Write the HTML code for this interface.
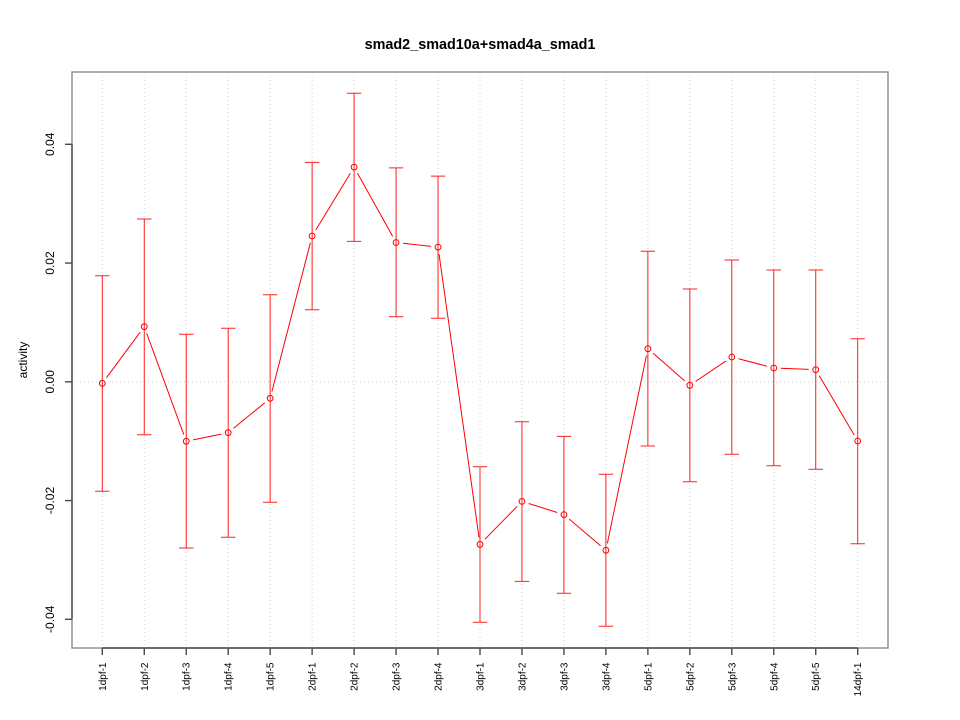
<!DOCTYPE html>
<html>
<head>
<meta charset="utf-8">
<style>
html,body{margin:0;padding:0;background:#fff;}
svg{display:block;}
text{font-family:"Liberation Sans",Arial,sans-serif;fill:#000;}
</style>
</head>
<body>
<svg width="960" height="720" viewBox="0 0 960 720" xmlns="http://www.w3.org/2000/svg">
<rect width="960" height="720" fill="#fff"/>

<!-- grid -->
<g stroke="#cfcfcf" stroke-width="1" stroke-dasharray="1,3" fill="none">
<line x1="102.3" y1="72" x2="102.3" y2="648"/>
<line x1="144.27" y1="72" x2="144.27" y2="648"/>
<line x1="186.23" y1="72" x2="186.23" y2="648"/>
<line x1="228.2" y1="72" x2="228.2" y2="648"/>
<line x1="270.17" y1="72" x2="270.17" y2="648"/>
<line x1="312.13" y1="72" x2="312.13" y2="648"/>
<line x1="354.1" y1="72" x2="354.1" y2="648"/>
<line x1="396.07" y1="72" x2="396.07" y2="648"/>
<line x1="438.03" y1="72" x2="438.03" y2="648"/>
<line x1="480" y1="72" x2="480" y2="648"/>
<line x1="521.97" y1="72" x2="521.97" y2="648"/>
<line x1="563.93" y1="72" x2="563.93" y2="648"/>
<line x1="605.9" y1="72" x2="605.9" y2="648"/>
<line x1="647.87" y1="72" x2="647.87" y2="648"/>
<line x1="689.83" y1="72" x2="689.83" y2="648"/>
<line x1="731.8" y1="72" x2="731.8" y2="648"/>
<line x1="773.77" y1="72" x2="773.77" y2="648"/>
<line x1="815.73" y1="72" x2="815.73" y2="648"/>
<line x1="857.7" y1="72" x2="857.7" y2="648"/>
<line x1="72" y1="381.8" x2="888" y2="381.8"/>
</g>

<!-- box -->
<rect x="72" y="72" width="816" height="576" fill="none" stroke="#8c8c8c" stroke-width="1.4"/>
<!-- axes -->
<g stroke="#4a4a4a" stroke-width="1.4" fill="none">
<line x1="72" y1="144.3" x2="72" y2="619.3"/>
<line x1="65" y1="144.3" x2="72" y2="144.3"/>
<line x1="65" y1="263.05" x2="72" y2="263.05"/>
<line x1="65" y1="381.8" x2="72" y2="381.8"/>
<line x1="65" y1="500.55" x2="72" y2="500.55"/>
<line x1="65" y1="619.3" x2="72" y2="619.3"/>
<line x1="102.3" y1="648" x2="857.7" y2="648"/>
<line x1="102.3" y1="648" x2="102.3" y2="655"/>
<line x1="144.27" y1="648" x2="144.27" y2="655"/>
<line x1="186.23" y1="648" x2="186.23" y2="655"/>
<line x1="228.2" y1="648" x2="228.2" y2="655"/>
<line x1="270.17" y1="648" x2="270.17" y2="655"/>
<line x1="312.13" y1="648" x2="312.13" y2="655"/>
<line x1="354.1" y1="648" x2="354.1" y2="655"/>
<line x1="396.07" y1="648" x2="396.07" y2="655"/>
<line x1="438.03" y1="648" x2="438.03" y2="655"/>
<line x1="480" y1="648" x2="480" y2="655"/>
<line x1="521.97" y1="648" x2="521.97" y2="655"/>
<line x1="563.93" y1="648" x2="563.93" y2="655"/>
<line x1="605.9" y1="648" x2="605.9" y2="655"/>
<line x1="647.87" y1="648" x2="647.87" y2="655"/>
<line x1="689.83" y1="648" x2="689.83" y2="655"/>
<line x1="731.8" y1="648" x2="731.8" y2="655"/>
<line x1="773.77" y1="648" x2="773.77" y2="655"/>
<line x1="815.73" y1="648" x2="815.73" y2="655"/>
<line x1="857.7" y1="648" x2="857.7" y2="655"/>
</g>

<!-- y tick labels -->
<g font-size="12" text-anchor="middle">
<text transform="translate(54,144.3) rotate(-90)">0.04</text>
<text transform="translate(54,263.05) rotate(-90)">0.02</text>
<text transform="translate(54,381.8) rotate(-90)">0.00</text>
<text transform="translate(54,500.55) rotate(-90)">-0.02</text>
<text transform="translate(54,619.3) rotate(-90)">-0.04</text>
</g>
<text transform="translate(27,360) rotate(-90)" font-size="12" text-anchor="middle">activity</text>

<!-- x tick labels -->
<g font-size="10" text-anchor="end">
<text transform="translate(105.8,662.5) rotate(-90)">1dpf-1</text>
<text transform="translate(147.77,662.5) rotate(-90)">1dpf-2</text>
<text transform="translate(189.73,662.5) rotate(-90)">1dpf-3</text>
<text transform="translate(231.7,662.5) rotate(-90)">1dpf-4</text>
<text transform="translate(273.67,662.5) rotate(-90)">1dpf-5</text>
<text transform="translate(315.63,662.5) rotate(-90)">2dpf-1</text>
<text transform="translate(357.6,662.5) rotate(-90)">2dpf-2</text>
<text transform="translate(399.57,662.5) rotate(-90)">2dpf-3</text>
<text transform="translate(441.53,662.5) rotate(-90)">2dpf-4</text>
<text transform="translate(483.5,662.5) rotate(-90)">3dpf-1</text>
<text transform="translate(525.47,662.5) rotate(-90)">3dpf-2</text>
<text transform="translate(567.43,662.5) rotate(-90)">3dpf-3</text>
<text transform="translate(609.4,662.5) rotate(-90)">3dpf-4</text>
<text transform="translate(651.37,662.5) rotate(-90)">5dpf-1</text>
<text transform="translate(693.33,662.5) rotate(-90)">5dpf-2</text>
<text transform="translate(735.3,662.5) rotate(-90)">5dpf-3</text>
<text transform="translate(777.27,662.5) rotate(-90)">5dpf-4</text>
<text transform="translate(819.23,662.5) rotate(-90)">5dpf-5</text>
<text transform="translate(861.2,662.5) rotate(-90)">14dpf-1</text>
</g>

<!-- title -->
<text x="480" y="49" font-size="14.4" font-weight="bold" text-anchor="middle">smad2_smad10a+smad4a_smad1</text>

<!-- connecting segments with gaps -->
<g stroke="#ff0000" stroke-width="1" fill="none">
<line x1="106.47" y1="377.68" x2="140.1" y2="332.32"/>
<line x1="146.68" y1="333.27" x2="183.82" y2="434.73"/>
<line x1="193.09" y1="439.89" x2="221.34" y2="434.11"/>
<line x1="233.61" y1="428.26" x2="264.76" y2="402.74"/>
<line x1="271.92" y1="391.52" x2="310.38" y2="242.78"/>
<line x1="315.77" y1="230.02" x2="350.46" y2="173.08"/>
<line x1="357.5" y1="173.22" x2="392.67" y2="236.38"/>
<line x1="403.03" y1="243.26" x2="431.07" y2="246.34"/>
<line x1="439.01" y1="254.03" x2="479.02" y2="537.37"/>
<line x1="484.9" y1="539.3" x2="517.07" y2="506.4"/>
<line x1="528.65" y1="503.5" x2="557.25" y2="512.5"/>
<line x1="569.26" y1="519.14" x2="600.57" y2="545.76"/>
<line x1="607.33" y1="543.45" x2="646.44" y2="355.55"/>
<line x1="653.15" y1="353.3" x2="684.55" y2="380.7"/>
<line x1="695.63" y1="381.39" x2="726.0" y2="360.91"/>
<line x1="738.57" y1="358.77" x2="767.0" y2="366.23"/>
<line x1="780.76" y1="368.28" x2="808.74" y2="369.42"/>
<line x1="819.28" y1="375.73" x2="854.15" y2="434.97"/>
</g>

<!-- error bars -->
<g stroke="#ff2020" stroke-width="1" fill="none">
<path d="M102.3,275.7V491.3M95.1,275.7H109.5M95.1,491.3H109.5"/>
<path d="M144.27,219V434.7M137.07,219H151.47M137.07,434.7H151.47"/>
<path d="M186.23,334.3V548M179.03,334.3H193.43M179.03,548H193.43"/>
<path d="M228.2,328.3V537.3M221,328.3H235.4M221,537.3H235.4"/>
<path d="M270.17,294.7V502.3M262.97,294.7H277.37M262.97,502.3H277.37"/>
<path d="M312.13,162.4V309.7M304.93,162.4H319.33M304.93,309.7H319.33"/>
<path d="M354.1,93.2V241.4M346.9,93.2H361.3M346.9,241.4H361.3"/>
<path d="M396.07,167.9V316.8M388.87,167.9H403.27M388.87,316.8H403.27"/>
<path d="M438.03,176.1V318.2M430.83,176.1H445.23M430.83,318.2H445.23"/>
<path d="M480,466.8V622.2M472.8,466.8H487.2M472.8,622.2H487.2"/>
<path d="M521.97,421.8V581.4M514.77,421.8H529.17M514.77,581.4H529.17"/>
<path d="M563.93,436.4V593.2M556.73,436.4H571.13M556.73,593.2H571.13"/>
<path d="M605.9,474.3V626.3M598.7,474.3H613.1M598.7,626.3H613.1"/>
<path d="M647.87,251.3V446M640.67,251.3H655.07M640.67,446H655.07"/>
<path d="M689.83,289V481.7M682.63,289H697.03M682.63,481.7H697.03"/>
<path d="M731.8,260V454.3M724.6,260H739M724.6,454.3H739"/>
<path d="M773.77,270V465.7M766.57,270H780.97M766.57,465.7H780.97"/>
<path d="M815.73,270V469.3M808.53,270H822.93M808.53,469.3H822.93"/>
<path d="M857.7,338.7V543.7M850.5,338.7H864.9M850.5,543.7H864.9"/>
</g>

<!-- points -->
<g fill="none" stroke="#ff0000" stroke-width="1">
<circle cx="102.3" cy="383.3" r="2.9"/>
<circle cx="144.27" cy="326.7" r="2.9"/>
<circle cx="186.23" cy="441.3" r="2.9"/>
<circle cx="228.2" cy="432.7" r="2.9"/>
<circle cx="270.17" cy="398.3" r="2.9"/>
<circle cx="312.13" cy="236" r="2.9"/>
<circle cx="354.1" cy="167.1" r="2.9"/>
<circle cx="396.07" cy="242.5" r="2.9"/>
<circle cx="438.03" cy="247.1" r="2.9"/>
<circle cx="480" cy="544.3" r="2.9"/>
<circle cx="521.97" cy="501.4" r="2.9"/>
<circle cx="563.93" cy="514.6" r="2.9"/>
<circle cx="605.9" cy="550.3" r="2.9"/>
<circle cx="647.87" cy="348.7" r="2.9"/>
<circle cx="689.83" cy="385.3" r="2.9"/>
<circle cx="731.8" cy="357" r="2.9"/>
<circle cx="773.77" cy="368" r="2.9"/>
<circle cx="815.73" cy="369.7" r="2.9"/>
<circle cx="857.7" cy="441" r="2.9"/>
</g>
</svg>
</body>
</html>
